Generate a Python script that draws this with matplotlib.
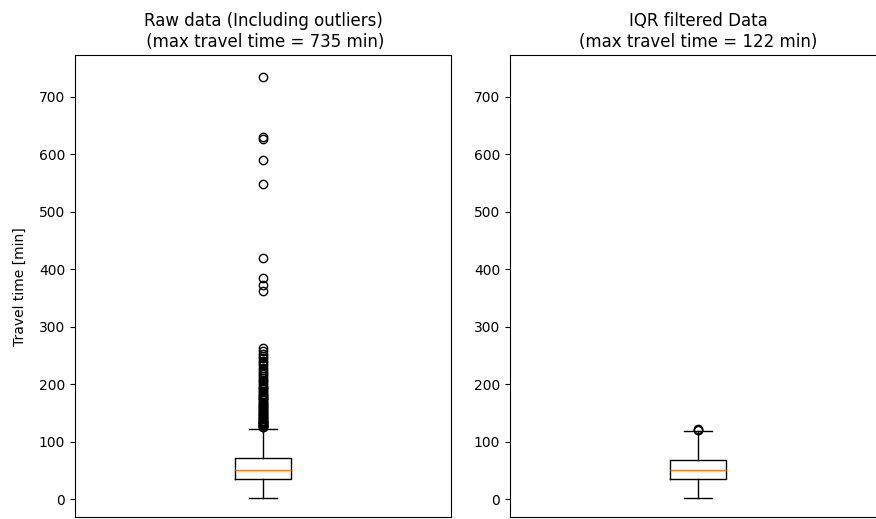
import matplotlib
matplotlib.use("Agg")
import matplotlib.pyplot as plt

# Box statistics (minutes)
raw_q1, raw_med, raw_q3 = 35, 51, 71
raw_whislo, raw_whishi = 2, 122
raw_fliers = [735, 630, 626, 590, 549, 420, 385, 373, 362,
              263, 258, 253, 249, 245, 241, 237, 233, 229, 225, 222,
              218, 214, 211, 208, 205, 202, 199, 196, 193, 191, 188,
              186, 184, 182, 180, 178, 176, 174, 172, 170, 168, 166,
              164, 162, 160, 158, 157, 155, 153, 152, 150, 149, 147,
              146, 144, 143, 141, 140, 139, 137, 136, 135, 134, 133,
              132, 131, 130, 129, 128, 127, 126, 125]

flt_q1, flt_med, flt_q3 = 35, 51, 68
flt_whislo, flt_whishi = 2, 119
flt_fliers = [120, 121, 122]

titles = ["Raw data (Including outliers)\n (max travel time = 735 min)",
          "IQR filtered Data\n(max travel time = 122 min)"]
ylabel = "Travel time [min]"
yticks = [0, 100, 200, 300, 400, 500, 600, 700]

stats = [
    dict(med=raw_med, q1=raw_q1, q3=raw_q3, whislo=raw_whislo,
         whishi=raw_whishi, fliers=raw_fliers),
    dict(med=flt_med, q1=flt_q1, q3=flt_q3, whislo=flt_whislo,
         whishi=flt_whishi, fliers=flt_fliers),
]

fig = plt.figure(figsize=(8.76, 5.19), dpi=100)
ax1 = fig.add_axes([75 / 876, 1.7 / 519, 376 / 876, 462.3 / 519])
ax2 = fig.add_axes([510 / 876, 1.7 / 519, 376 / 876, 462.3 / 519])

for ax, st, title in zip([ax1, ax2], stats, titles):
    ax.bxp([st], positions=[1], widths=0.15,
           flierprops=dict(marker="o", markerfacecolor="none",
                           markeredgecolor="black", markersize=6))
    ax.set_xlim(0.5, 1.5)
    ax.set_ylim(-31.3, 772.7)
    ax.set_yticks(yticks)
    ax.set_xticks([])
    ax.set_title(title, fontsize=12)

ax1.set_ylabel(ylabel, labelpad=9)

fig.savefig("out.png", dpi=100)
